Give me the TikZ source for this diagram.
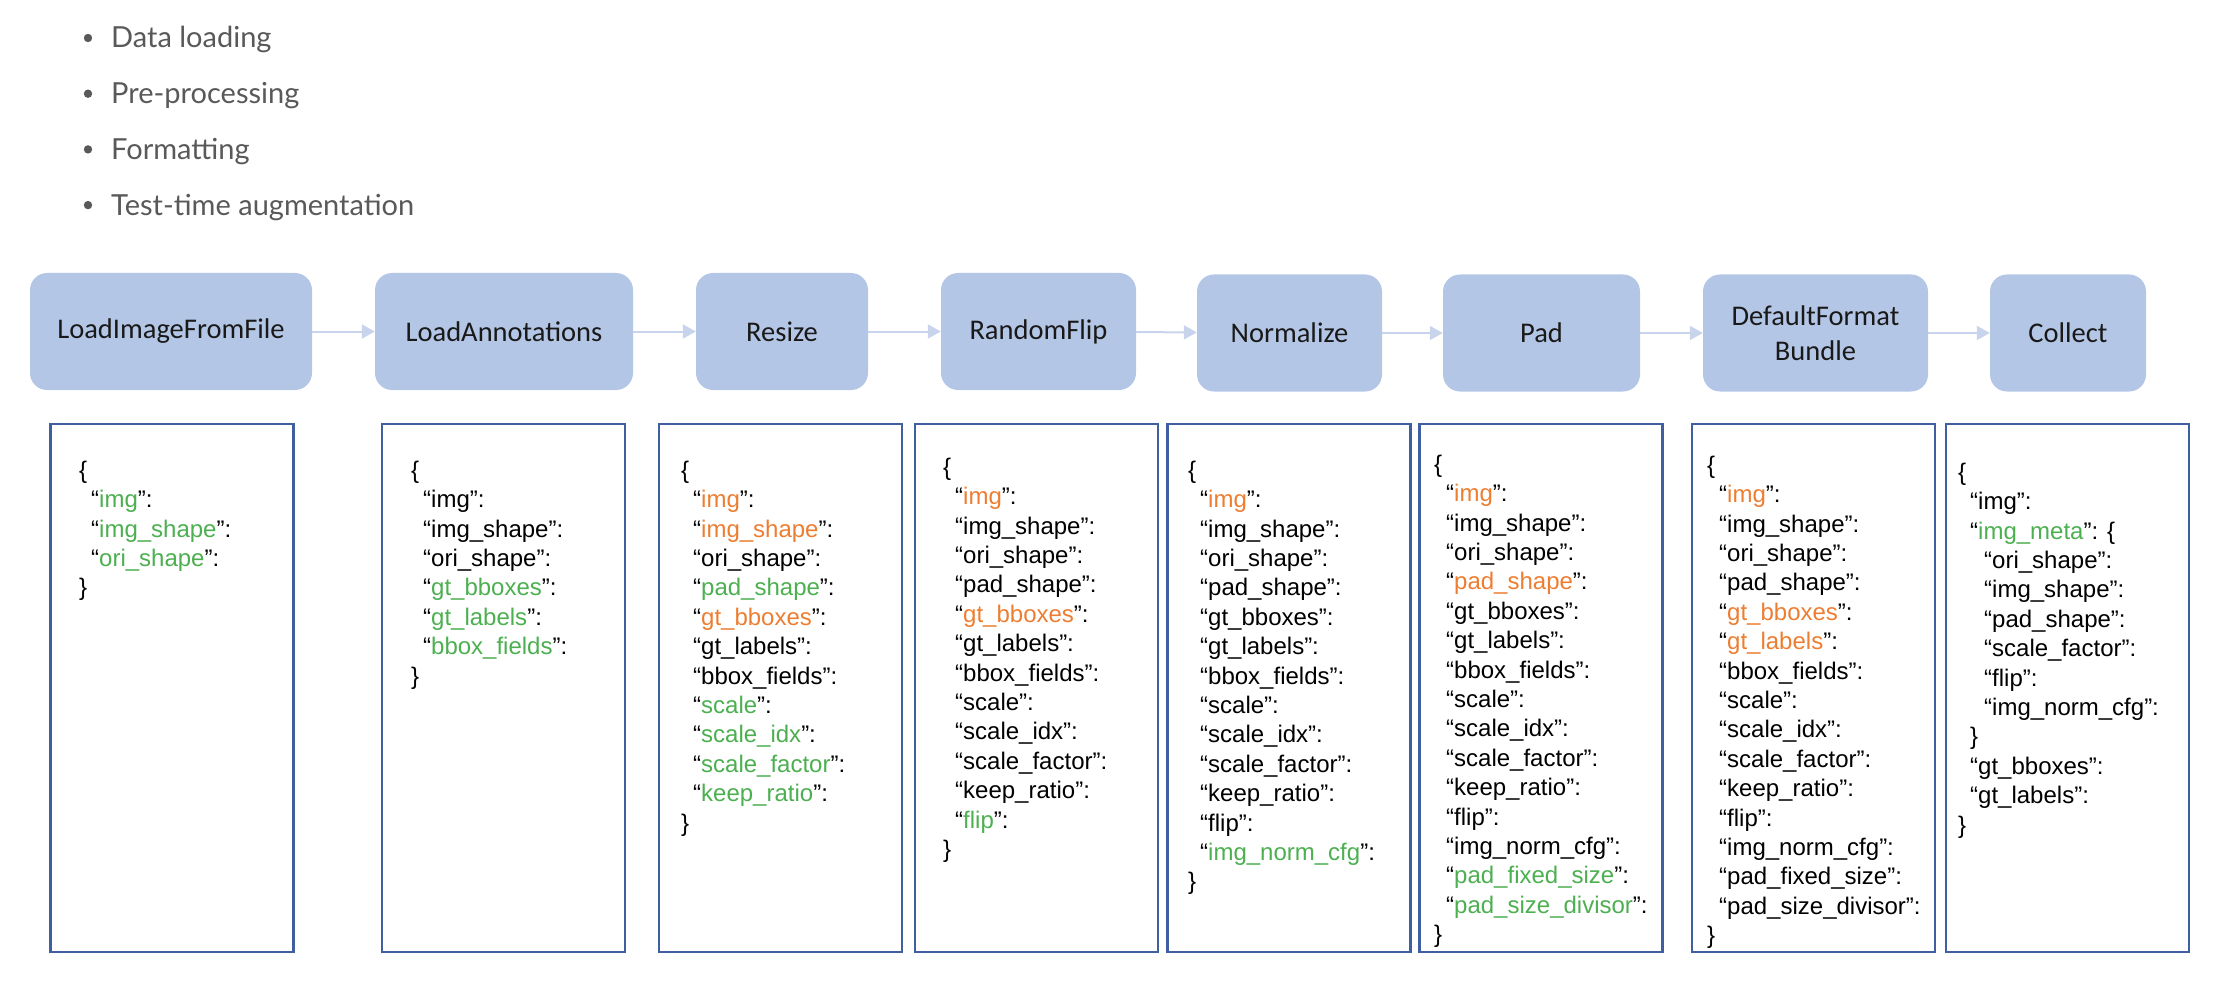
\documentclass[tikz,border=0pt]{standalone}
\usepackage{fontspec}
\setmainfont{Liberation Sans}
\newfontfamily\carlitofont{Carlito}
\newfontfamily\bulletfont{Lato}
\usetikzlibrary{arrows.meta}
\definecolor{boxfill}{HTML}{B4C6E6}
\definecolor{arrowcol}{HTML}{C8D4EC}
\definecolor{framecol}{HTML}{3F5FA0}
\definecolor{kgreen}{HTML}{4CAF50}
\definecolor{korange}{HTML}{ED7D31}
\definecolor{bulletgray}{HTML}{595959}
\newcommand{\kb}[1]{“#1”:}
\newcommand{\kg}[1]{“\textcolor{kgreen}{#1}”:}
\newcommand{\ko}[1]{“\textcolor{korange}{#1}”:}
\newcommand{\ii}{\hspace*{12pt}}
\newcommand{\iii}{\hspace*{26pt}}
\begin{document}
\begin{tikzpicture}[x=1pt,y=-1pt,
  topbox/.style={fill=boxfill, rounded corners=17pt, minimum height=117pt, inner sep=0pt,
    font=\carlitofont\fontsize{28.5}{35}\selectfont, text=black!90, align=center},
  listbox/.style={draw=framecol, line width=2.4pt, minimum width=243pt, minimum height=528pt, inner sep=0pt},
  listtext/.style={anchor=north west, inner sep=0pt, align=left, font=\fontsize{24}{29.4}\selectfont},
  flow/.style={draw=arrowcol, line width=2pt, -{Triangle[length=13pt,width=14pt]}},
  bullettext/.style={anchor=base west, inner sep=0pt, text=bulletgray, font=\bulletfont\fontsize{29}{35}\selectfont},
  bulletdot/.style={circle, fill=bulletgray, minimum size=8.4pt, inner sep=0pt},
]
\useasboundingbox (0,0) rectangle (2230,984);

% bullet list
\node[bulletdot] (d1) at (88,38) {};
\node[bulletdot] (d2) at (88,93.7) {};
\node[bulletdot] (d3) at (88,149.4) {};
\node[bulletdot] (d4) at (88,205.1) {};
\node[bullettext] (l1) at (111,48) {Data loading};
\node[bullettext] (l2) at (111,103.7) {Pre-processing};
\node[bullettext] (l3) at (111,159.4) {Formatting};
\node[bullettext] (l4) at (111,215.1) {Test-time augmentation};

% pipeline steps
\node[topbox, minimum width=282pt] (n1) at (171,331.5) {LoadImageFromFile};
\node[topbox, minimum width=258pt] (n2) at (504,331.5) {LoadAnnotations};
\node[topbox, minimum width=172pt] (n3) at (782,331.5) {Resize};
\node[topbox, minimum width=195pt] (n4) at (1038.5,331.5) {RandomFlip};
\node[topbox, minimum width=185pt] (n5) at (1289.5,333) {Normalize};
\node[topbox, minimum width=197pt] (n6) at (1541.5,333) {Pad};
\node[topbox, minimum width=225pt] (n7) at (1815.5,333) {DefaultFormat\\Bundle};
\node[topbox, minimum width=156pt] (n8) at (2068,333) {Collect};

\draw[flow] (n1) -- (n2);
\draw[flow] (n2) -- (n3);
\draw[flow] (n3) -- (n4);
\draw[flow] (n4) -- (n5);
\draw[flow] (n5) -- (n6);
\draw[flow] (n6) -- (n7);
\draw[flow] (n7) -- (n8);

% result dicts
\node[listbox] (b1) at (172,688) {};
\node[listbox] (b2) at (503.5,688) {};
\node[listbox] (b3) at (780.5,688) {};
\node[listbox] (b4) at (1036.5,688) {};
\node[listbox] (b5) at (1289,688) {};
\node[listbox] (b6) at (1541,688) {};
\node[listbox] (b7) at (1813.5,688) {};
\node[listbox] (b8) at (2067.5,688) {};

\node[listtext] (t1) at (79,460.7) {\{\\
\ii\kg{img}\\
\ii\kg{img\_shape}\\
\ii\kg{ori\_shape}\\
\}};

\node[listtext] (t2) at (411,460.7) {\{\\
\ii\kb{img}\\
\ii\kb{img\_shape}\\
\ii\kb{ori\_shape}\\
\ii\kg{gt\_bboxes}\\
\ii\kg{gt\_labels}\\
\ii\kg{bbox\_fields}\\
\}};

\node[listtext] (t3) at (681,460.7) {\{\\
\ii\ko{img}\\
\ii\ko{img\_shape}\\
\ii\kb{ori\_shape}\\
\ii\kg{pad\_shape}\\
\ii\ko{gt\_bboxes}\\
\ii\kb{gt\_labels}\\
\ii\kb{bbox\_fields}\\
\ii\kg{scale}\\
\ii\kg{scale\_idx}\\
\ii\kg{scale\_factor}\\
\ii\kg{keep\_ratio}\\
\}};

\node[listtext] (t4) at (943,457.7) {\{\\
\ii\ko{img}\\
\ii\kb{img\_shape}\\
\ii\kb{ori\_shape}\\
\ii\kb{pad\_shape}\\
\ii\ko{gt\_bboxes}\\
\ii\kb{gt\_labels}\\
\ii\kb{bbox\_fields}\\
\ii\kb{scale}\\
\ii\kb{scale\_idx}\\
\ii\kb{scale\_factor}\\
\ii\kb{keep\_ratio}\\
\ii\kg{flip}\\
\}};

\node[listtext] (t5) at (1188,460.7) {\{\\
\ii\ko{img}\\
\ii\kb{img\_shape}\\
\ii\kb{ori\_shape}\\
\ii\kb{pad\_shape}\\
\ii\kb{gt\_bboxes}\\
\ii\kb{gt\_labels}\\
\ii\kb{bbox\_fields}\\
\ii\kb{scale}\\
\ii\kb{scale\_idx}\\
\ii\kb{scale\_factor}\\
\ii\kb{keep\_ratio}\\
\ii\kb{flip}\\
\ii\kg{img\_norm\_cfg}\\
\}};

\node[listtext] (t6) at (1434,454.7) {\{\\
\ii\ko{img}\\
\ii\kb{img\_shape}\\
\ii\kb{ori\_shape}\\
\ii\ko{pad\_shape}\\
\ii\kb{gt\_bboxes}\\
\ii\kb{gt\_labels}\\
\ii\kb{bbox\_fields}\\
\ii\kb{scale}\\
\ii\kb{scale\_idx}\\
\ii\kb{scale\_factor}\\
\ii\kb{keep\_ratio}\\
\ii\kb{flip}\\
\ii\kb{img\_norm\_cfg}\\
\ii\kg{pad\_fixed\_size}\\
\ii\kg{pad\_size\_divisor}\\
\}};

\node[listtext] (t7) at (1707,455.7) {\{\\
\ii\ko{img}\\
\ii\kb{img\_shape}\\
\ii\kb{ori\_shape}\\
\ii\kb{pad\_shape}\\
\ii\ko{gt\_bboxes}\\
\ii\ko{gt\_labels}\\
\ii\kb{bbox\_fields}\\
\ii\kb{scale}\\
\ii\kb{scale\_idx}\\
\ii\kb{scale\_factor}\\
\ii\kb{keep\_ratio}\\
\ii\kb{flip}\\
\ii\kb{img\_norm\_cfg}\\
\ii\kb{pad\_fixed\_size}\\
\ii\kb{pad\_size\_divisor}\\
\}};

\node[listtext] (t8) at (1958,462.7) {\{\\
\ii\kb{img}\\
\ii\kg{img\_meta} \{\\
\iii\kb{ori\_shape}\\
\iii\kb{img\_shape}\\
\iii\kb{pad\_shape}\\
\iii\kb{scale\_factor}\\
\iii\kb{flip}\\
\iii\kb{img\_norm\_cfg}\\
\ii\}\\
\ii\kb{gt\_bboxes}\\
\ii\kb{gt\_labels}\\
\}};
\end{tikzpicture}
\end{document}
